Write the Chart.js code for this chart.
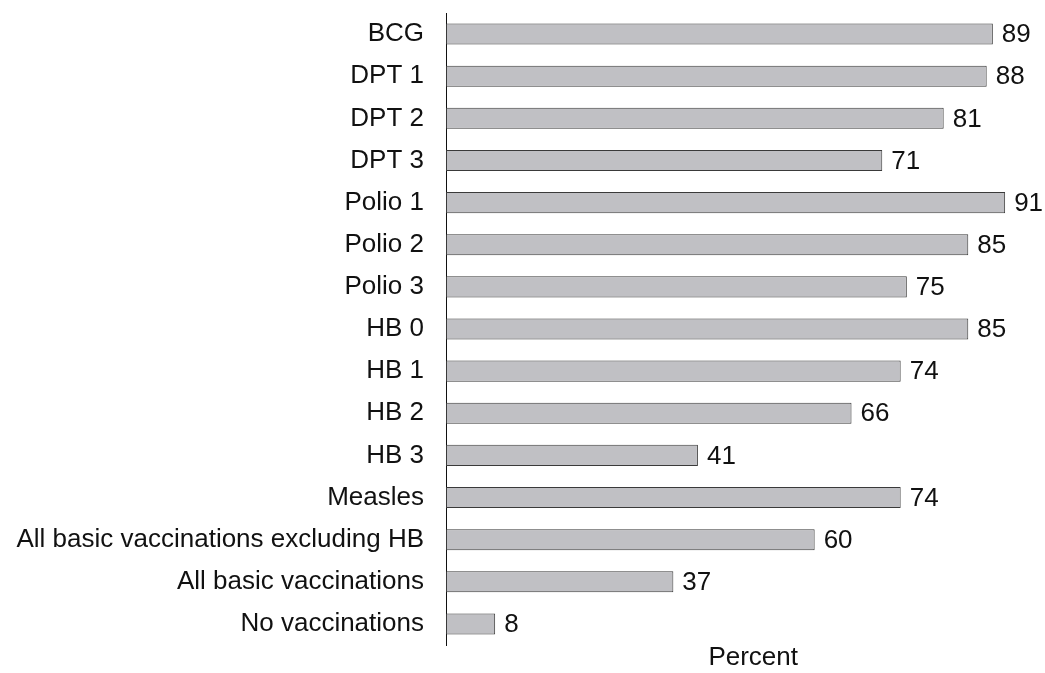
<!DOCTYPE html>
<html lang="en">
<head>
    <meta charset="UTF-8">
    <title>Vaccination coverage</title>
    <script src="https://cdn.jsdelivr.net/npm/chart.js"></script>
    <style>
        body { margin: 0; background: #fff; overflow: hidden; }
    </style>
</head>
<body>
    <canvas id="barChart" width="1045" height="673"></canvas>

    <script>
        const labels = [
            'BCG', 'DPT 1', 'DPT 2', 'DPT 3', 'Polio 1', 'Polio 2', 'Polio 3',
            'HB 0', 'HB 1', 'HB 2', 'HB 3', 'Measles',
            'All basic vaccinations excluding HB', 'All basic vaccinations', 'No vaccinations'
        ];
        const values = [89, 88, 81, 71, 91, 85, 75, 85, 74, 66, 41, 74, 60, 37, 8];
        const axisTitle = 'Percent';

        const fontFamily = '"Liberation Sans", Arial, sans-serif';

        // value labels at bar ends + axis title under the plot
        const annotate = {
            id: 'annotate',
            afterDatasetsDraw(chart) {
                const ctx = chart.ctx;
                const meta = chart.getDatasetMeta(0);
                ctx.save();
                ctx.font = '26px ' + fontFamily;
                ctx.fillStyle = '#111';
                ctx.textBaseline = 'middle';
                ctx.textAlign = 'left';
                meta.data.forEach((bar, i) => {
                    ctx.fillText(String(values[i]), bar.x + 9, bar.y + 1);
                });
                const xScale = chart.scales.x;
                ctx.textAlign = 'center';
                ctx.fillText(axisTitle, xScale.getPixelForValue(50), chart.chartArea.bottom + 13);
                ctx.restore();
            }
        };

        const ctx = document.getElementById('barChart').getContext('2d');
        new Chart(ctx, {
            type: 'bar',
            data: {
                labels: labels,
                datasets: [{
                    data: values,
                    backgroundColor: '#c0c0c4',
                    borderColor: '#3a3a3a',
                    borderWidth: 1,
                    borderSkipped: false,
                    barPercentage: 0.5,
                    categoryPercentage: 1.0
                }]
            },
            options: {
                indexAxis: 'y',
                responsive: false,
                animation: false,
                layout: { padding: { top: 13, bottom: 28, right: 3, left: 0 } },
                plugins: {
                    legend: { display: false },
                    tooltip: { enabled: false }
                },
                scales: {
                    x: {
                        display: false,
                        min: 0,
                        max: 97
                    },
                    y: {
                        grid: { display: false, drawTicks: false },
                        border: { display: true, color: '#111', width: 1 },
                        ticks: {
                            autoSkip: false,
                            padding: 22,
                            color: '#111',
                            font: { family: fontFamily, size: 26 }
                        },
                        afterFit(scale) {
                            scale.width = 446;
                            scale.paddingTop = 0;
                            scale.paddingBottom = 0;
                        }
                    }
                }
            },
            plugins: [annotate]
        });
    </script>
</body>
</html>
